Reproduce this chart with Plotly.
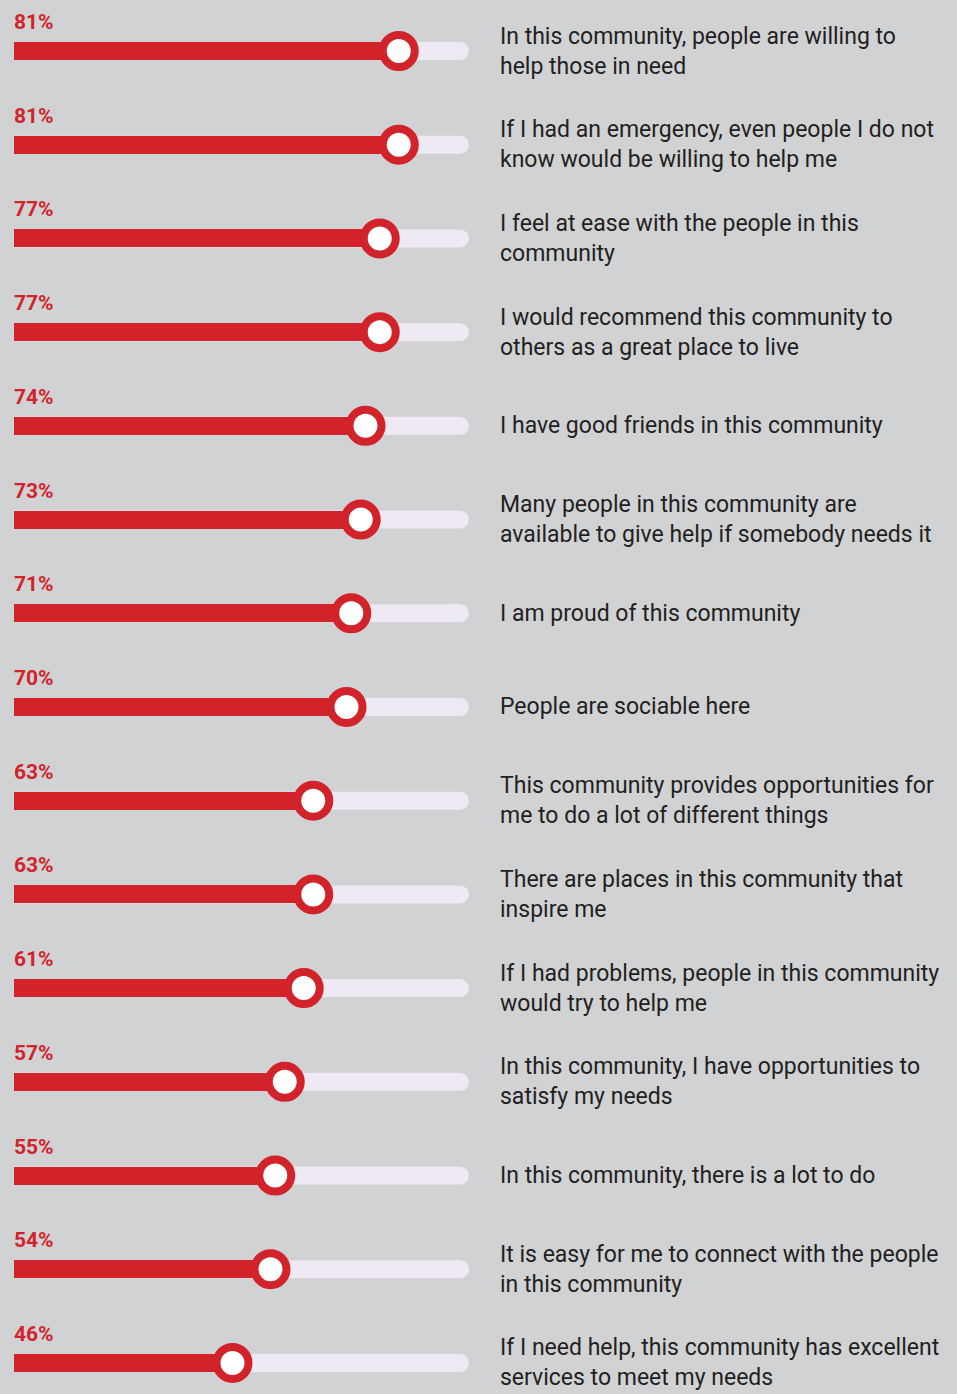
import plotly.graph_objects as go

statements = [
    "In this community, people are willing to<br>help those in need",
    "If I had an emergency, even people I do not<br>know would be willing to help me",
    "I feel at ease with the people in this<br>community",
    "I would recommend this community to<br>others as a great place to live",
    "I have good friends in this community",
    "Many people in this community are<br>available to give help if somebody needs it",
    "I am proud of this community",
    "People are sociable here",
    "This community provides opportunities for<br>me to do a lot of different things",
    "There are places in this community that<br>inspire me",
    "If I had problems, people in this community<br>would try to help me",
    "In this community, I have opportunities to<br>satisfy my needs",
    "In this community, there is a lot to do",
    "It is easy for me to connect with the people<br>in this community",
    "If I need help, this community has excellent<br>services to meet my needs",
]
values = [81, 81, 77, 77, 74, 73, 71, 70, 63, 63, 61, 57, 55, 54, 46]
pct_labels = [f"{v}%" for v in values]

RED = "#d2232a"
TRACK = "#eee9f3"
BG = "#d1d2d4"
TEXT = "#231f20"

W, H = 957, 1394
ROW0, ROWSTEP = 51, 93.71
X0PX, XSCALE = 14, 4.75  # pixel of 0% and pixels per %
BAR_PX = 18
TRACK_END_PX = 469

n = len(values)
idx = list(range(n))
y_unit = 1 / ROWSTEP  # data units per pixel
bar_w = BAR_PX * y_unit

fig = go.Figure()

# red filled bars
fig.add_trace(go.Bar(
    x=values, y=idx, orientation="h", base=0, width=bar_w,
    marker=dict(color=RED, line=dict(width=0)), hoverinfo="skip", showlegend=False,
))
# slider knobs
fig.add_trace(go.Scatter(
    x=values, y=idx, mode="markers",
    marker=dict(size=32, color="white", line=dict(color=RED, width=8)),
    hoverinfo="skip", showlegend=False, cliponaxis=False,
))

shapes = []
annotations = []
for i in idx:
    # track (rounded right end)
    shapes.append(dict(type="rect", xref="paper", yref="y", layer="below",
                       x0=X0PX / W, x1=(TRACK_END_PX - BAR_PX / 2) / W,
                       y0=i - bar_w / 2, y1=i + bar_w / 2,
                       fillcolor=TRACK, line=dict(width=0)))
    shapes.append(dict(type="circle", xref="paper", yref="y", layer="below",
                       xsizemode="pixel", ysizemode="pixel",
                       xanchor=(TRACK_END_PX - BAR_PX / 2) / W, yanchor=i,
                       x0=-BAR_PX / 2, x1=BAR_PX / 2, y0=-BAR_PX / 2, y1=BAR_PX / 2,
                       fillcolor=TRACK, line=dict(width=0)))
    annotations.append(dict(
        x=0, y=i, xref="x", yref="y", text=f"<b>{pct_labels[i]}</b>",
        xanchor="left", yanchor="middle", yshift=29, xshift=-2, showarrow=False,
        font=dict(family="Roboto", size=21, color=RED, weight=900)))
    annotations.append(dict(
        x=498 / W, y=i, xref="paper", yref="y", text=statements[i],
        xanchor="left", yanchor="middle", align="left", showarrow=False,
        font=dict(family="Roboto", size=23, color=TEXT)))

fig.update_layout(
    width=W, height=H, margin=dict(l=0, r=0, t=0, b=0),
    paper_bgcolor=BG, plot_bgcolor=BG,
    xaxis=dict(range=[-X0PX / XSCALE, (W - X0PX) / XSCALE], visible=False, fixedrange=True),
    yaxis=dict(range=[(H - ROW0) / ROWSTEP, -ROW0 / ROWSTEP], visible=False, fixedrange=True),
    shapes=shapes, annotations=annotations, bargap=0,
)

fig.write_html("out.html")
